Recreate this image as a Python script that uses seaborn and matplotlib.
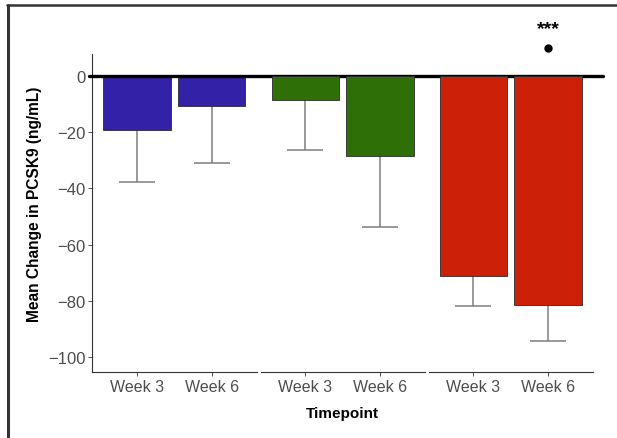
import matplotlib
matplotlib.use("Agg")
import matplotlib.pyplot as plt
import matplotlib.transforms as mtransforms
from matplotlib.lines import Line2D
import seaborn as sns
import pandas as pd

# ---- data ----
groups = ["Group 1", "Group 2", "Group 3"]
timepoints = ["Week 3", "Week 6"]
group_colors = ["#3322A8", "#2E7007", "#CC2008"]
mean_change = {
    "Group 1": [-19.2, -10.7],
    "Group 2": [-8.5, -28.6],
    "Group 3": [-71.1, -81.4],
}
lower_bound = {
    "Group 1": [-37.7, -31.1],
    "Group 2": [-26.2, -53.6],
    "Group 3": [-82.0, -94.2],
}
yticks = [0, -20, -40, -60, -80, -100]
sig_marker_value = 9.8
sig_text_value = 17.0
sig_text = "***"

sns.set_theme(style="ticks")
plt.rcParams["font.family"] = ["Liberation Sans", "DejaVu Sans"]

W, H = 617, 439
fig = plt.figure(figsize=(W / 100, H / 100), dpi=100)

def px_rect(x0, x1, y_top, y_bot):
    return [x0 / W, 1 - y_bot / H, (x1 - x0) / W, (y_bot - y_top) / H]

panel_x = [(92, 256.5), (260.5, 425), (428.5, 593)]
y_top, y_bot = 55, 373
ylim = (-105.3, 7.8)

axes = []
for i, g in enumerate(groups):
    ax = fig.add_axes(px_rect(panel_x[i][0], panel_x[i][1], y_top, y_bot))
    axes.append(ax)
    df = pd.DataFrame({"Timepoint": timepoints, "Change": mean_change[g]})
    xs = [0, 1]
    ax.vlines(xs, lower_bound[g], mean_change[g], color="#7f7f7f", lw=1.1, zorder=1)
    ax.hlines(lower_bound[g], [x - 0.24 for x in xs], [x + 0.24 for x in xs],
              color="#7f7f7f", lw=1.1, zorder=1)
    sns.barplot(data=df, x="Timepoint", y="Change", order=timepoints,
                color=group_colors[i], saturation=1, width=0.9,
                edgecolor="#2a2a2a", linewidth=0.6, errorbar=None, ax=ax, zorder=2)
    ax.set_xlim(-0.6, 1.6)
    ax.set_ylim(*ylim)
    ax.set_xlabel("")
    ax.set_ylabel("")
    for s in ["top", "right"]:
        ax.spines[s].set_visible(False)
    ax.spines["bottom"].set_color("#333333")
    ax.spines["bottom"].set_linewidth(0.8)
    ax.tick_params(axis="x", length=3, width=0.6, color="#333333",
                   labelsize=11.5, labelcolor="#4D4D4D", pad=2)
    if i == 0:
        ax.spines["left"].set_color("#333333")
        ax.spines["left"].set_linewidth(0.8)
        ax.set_yticks(yticks)
        ax.set_yticklabels([f"{v}".replace("-", "\u2212") for v in yticks])
        ax.tick_params(axis="y", length=3, width=0.6, color="#333333",
                       labelsize=12, labelcolor="#4D4D4D", pad=1.5)
    else:
        ax.spines["left"].set_visible(False)
        ax.set_yticks([])
    ax.patch.set_alpha(0)

# y-axis label
fig.text(35 / W, 1 - 204 / H, "Mean Change in PCSK9 (ng/mL)", rotation=90,
         ha="center", va="center", fontsize=11.2, fontweight="bold", color="black")

# significance marker on last bar
axes[2].plot([1], [sig_marker_value], "o", color="black", ms=5, clip_on=False)
axes[2].text(1, sig_text_value, sig_text, ha="center", va="center",
             fontsize=14, fontweight="bold", color="black", clip_on=False)

# zero reference line across all panels
trans = mtransforms.blended_transform_factory(fig.transFigure, axes[0].transData)
axes[0].add_line(Line2D([89 / W, 603 / W], [0, 0], transform=trans,
                        color="black", lw=2.4, clip_on=False, zorder=5))

# x-axis label
fig.text(342.5 / W, 1 - 414 / H, "Timepoint", ha="center", va="center",
         fontsize=11, fontweight="bold", color="black")

# image frame (top and left border)
fig.add_artist(Line2D([7 / W, 1], [1 - 5.5 / H, 1 - 5.5 / H],
                      transform=fig.transFigure, color="#333333", lw=1.8))
fig.add_artist(Line2D([7.5 / W, 7.5 / W], [0, 1 - 5.5 / H],
                      transform=fig.transFigure, color="#333333", lw=2.2))

fig.savefig("out.png", dpi=100)
